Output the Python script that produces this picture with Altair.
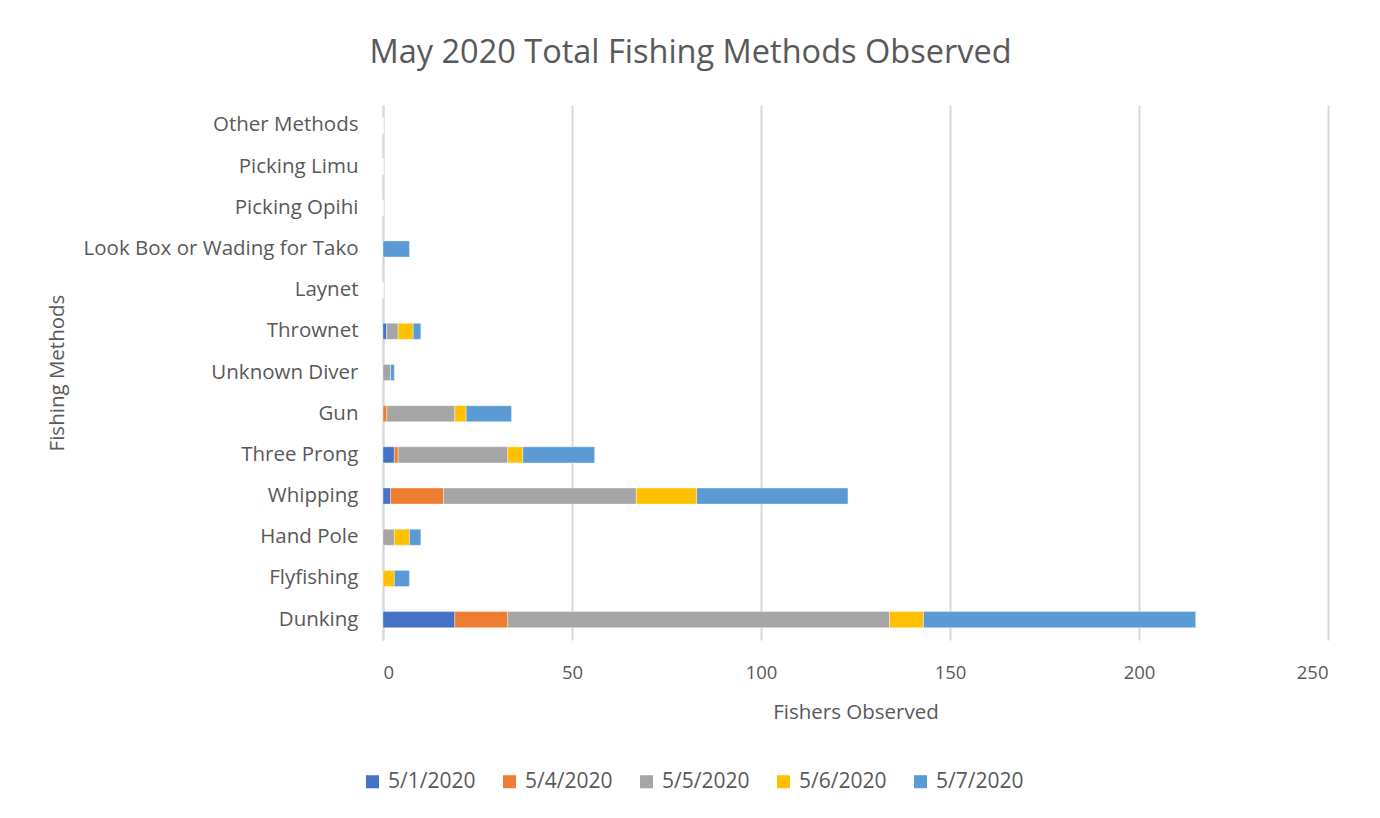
import altair as alt
import pandas as pd

methods = ["Other Methods", "Picking Limu", "Picking Opihi", "Look Box or Wading for Tako",
           "Laynet", "Thrownet", "Unknown Diver", "Gun", "Three Prong", "Whipping",
           "Hand Pole", "Flyfishing", "Dunking"]
dates = ["5/1/2020", "5/4/2020", "5/5/2020", "5/6/2020", "5/7/2020"]
colors = ["#4472C4", "#ED7D31", "#A5A5A5", "#FFC000", "#5B9BD5"]

# values per date, aligned with methods
d_0501 = [0, 0, 0, 0, 0, 1, 0, 0, 3, 2, 0, 0, 19]
d_0504 = [0, 0, 0, 0, 0, 0, 0, 1, 1, 14, 0, 0, 14]
d_0505 = [0, 0, 0, 0, 0, 3, 2, 18, 29, 51, 3, 0, 101]
d_0506 = [0, 0, 0, 0, 0, 4, 0, 3, 4, 16, 4, 3, 9]
d_0507 = [0, 0, 0, 7, 0, 2, 1, 12, 19, 40, 3, 4, 72]

series = [d_0501, d_0504, d_0505, d_0506, d_0507]
rows = []
for i, (d, vals) in enumerate(zip(dates, series)):
    for m, v in zip(methods, vals):
        rows.append({"Method": m, "Date": d, "Value": v, "order": i})
df = pd.DataFrame(rows)

font = "Open Sans"
W, H = 945, 535

chart = alt.Chart(df).mark_bar(stroke="white", strokeWidth=0.6, strokeOpacity=0.6).encode(
    y=alt.Y("Method:N", sort=methods,
            scale=alt.Scale(paddingInner=0.61, paddingOuter=0.3),
            axis=alt.Axis(title="Fishing Methods", labelFont=font, labelFontSize=20.5,
                          labelColor="#595959", titleFont=font, titleFontSize=20.5,
                          titleFontWeight="normal", titleColor="#595959",
                          titleX=-326, titleY=H / 2, titleAngle=-90, titleBaseline="middle",
                          ticks=False, labelPadding=25, domainColor="#d9d9d9",
                          domainWidth=2, labelLimit=400)),
    x=alt.X("Value:Q", stack="zero",
            scale=alt.Scale(domain=[0, 250], nice=False),
            axis=alt.Axis(title="Fishers Observed", values=[0, 50, 100, 150, 200, 250],
                          labelFont=font, labelFontSize=18.5, labelColor="#595959",
                          titleFont=font, titleFontSize=20.5, titleFontWeight="normal",
                          titleColor="#595959", ticks=False, domain=False,
                          labelPadding=23, titlePadding=21,
                          gridColor="#d9d9d9", gridWidth=2)),
    color=alt.Color("Date:N", sort=dates,
                    scale=alt.Scale(domain=dates, range=colors),
                    legend=alt.Legend(title=None, orient="none", direction="horizontal",
                                      legendX=-21, legendY=666, labelFont=font,
                                      labelFontSize=21, labelColor="#595959",
                                      symbolType="square", symbolSize=170,
                                      symbolStrokeWidth=0, columnPadding=23,
                                      labelOffset=5)),
    order=alt.Order("order:Q"),
).properties(
    width=W, height=H,
    title=alt.TitleParams("May 2020 Total Fishing Methods Observed", font=font,
                          fontSize=32.5, fontWeight="normal", color="#595959",
                          anchor="middle", dx=-165, offset=36),
    padding={"left": 375, "top": 97, "right": 44, "bottom": 170},
    autosize=alt.AutoSizeParams(type="none"),
).configure_view(stroke=None)

chart.save("out.html", embed_options={"renderer": "svg", "actions": False})
